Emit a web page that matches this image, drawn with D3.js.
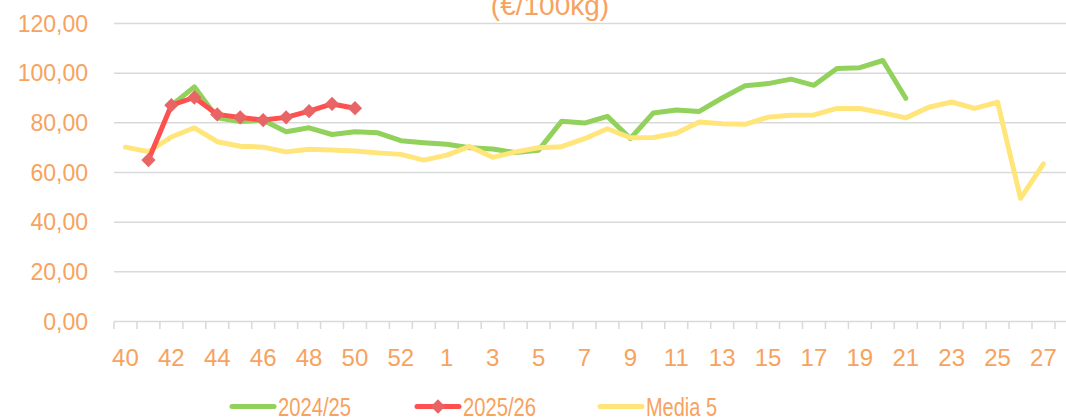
<!DOCTYPE html>
<html>
<head>
<meta charset="utf-8">
<script src="https://cdn.jsdelivr.net/npm/d3@7"></script>
<style>
  body { margin: 0; background: #fff; }
  text { font-family: "Liberation Sans", Arial, sans-serif; fill: #F7A25E; }
</style>
</head>
<body>
<div id="chart"></div>
<script>
// Weeks of the campaign (40..53, then 1..28)
const weeks = ["40","41","42","43","44","45","46","47","48","49","50","51","52","53",
    "1","2","3","4","5","6","7","8","9","10","11","12","13","14","15","16","17","18","19","20",
    "21","22","23","24","25","26","27","28"];

// 2024/25 season
const season2425 = [null, null, 87, 94.5, 82, 80.5, 81, 76.4, 78, 75.3, 76.4, 76, 72.8, 72,
    71.4, 70, 69.5, 68, 69, 80.6, 79.9, 82.6, 73.7, 84, 85.2, 84.6, 90, 94.9, 95.8, 97.6,
    95.1, 101.9, 102.2, 105.1, 89.9, null, null, null, null, null, null, null];

// 2025/26 season
const season2526 = [null, 65, 87.1, 90.2, 83.4, 82.2, 81.1, 82.2, 84.7, 87.6, 85.9];

// Media 5 anni
const media5 = [70.2, 68.4, 74.3, 78, 72.4, 70.6, 70.2, 68.3, 69.4, 69.1, 68.7, 67.9, 67.3,
    65, 67, 70.5, 66.1, 68.3, 70, 70.4, 73.6, 77.6, 74, 74.1, 75.8, 80.3, 79.6, 79.4, 82.3,
    83.1, 83.2, 85.8, 85.8, 84, 82, 86.3, 88.4, 85.8, 88.3, 49.6, 63.5, null];

const yTicks = [0, 20, 40, 60, 80, 100, 120];

const width = 1066;
const height = 418;
const plotLeft = 114, plotTop = 23.5, plotBottom = 321.5;
const step = 22.95;

const svg = d3.select("#chart")
    .append("svg")
        .attr("width", width)
        .attr("height", height);

const x = d3.scaleBand()
    .domain(weeks)
    .range([plotLeft, plotLeft + step * weeks.length])
    .padding(0);

const y = d3.scaleLinear()
    .domain([0, 120])
    .range([plotBottom, plotTop]);

const cx = d => x(d) + x.bandwidth() / 2;
const fmt = v => d3.format(".2f")(v).replace(".", ",");

// Title (cut at the top in the original)
svg.append("text")
    .attr("x", 550)
    .attr("y", 15)
    .attr("text-anchor", "middle")
    .style("font-size", "28px")
    .text("(€/100kg)");

// Gridlines + y labels
svg.append("g")
    .selectAll("line")
    .data(yTicks)
    .join("line")
        .attr("x1", plotLeft)
        .attr("x2", x.range()[1])
        .attr("y1", d => y(d))
        .attr("y2", d => y(d))
        .attr("stroke", "#D9D9D9")
        .attr("stroke-width", 1.5);

svg.append("g")
    .selectAll("text")
    .data(yTicks)
    .join("text")
        .attr("x", 88)
        .attr("y", d => y(d))
        .attr("dy", "0.36em")
        .attr("text-anchor", "end")
        .style("font-size", "23px")
        .text(fmt);

// X axis tick marks between categories
const bounds = weeks.map(w => x(w)).concat([x.range()[1]]);
svg.append("g")
    .selectAll("line")
    .data(bounds)
    .join("line")
        .attr("x1", d => d)
        .attr("x2", d => d)
        .attr("y1", plotBottom)
        .attr("y2", plotBottom + 7.5)
        .attr("stroke", "#D9D9D9")
        .attr("stroke-width", 1.5);

svg.append("g")
    .selectAll("text")
    .data(weeks.filter((w, i) => i % 2 === 0))
    .join("text")
        .attr("x", d => cx(d))
        .attr("y", 366)
        .attr("text-anchor", "middle")
        .style("font-size", "24px")
        .text(d => d);

// Lines
const line = d3.line()
    .defined(d => d.v != null)
    .x(d => cx(d.w))
    .y(d => y(d.v));

const toPts = arr => arr.map((v, i) => ({w: weeks[i], v: v}));

// draw order: green, then yellow, red on top
const series = [
    {name: "2024/25", values: season2425, color: "#92D15B"},
    {name: "Media 5", values: media5, color: "#FFE57A"},
    {name: "2025/26", values: season2526, color: "#FF5050"}
];

svg.append("g")
    .selectAll("path")
    .data(series)
    .join("path")
        .attr("d", d => line(toPts(d.values)))
        .attr("fill", "none")
        .attr("stroke", d => d.color)
        .attr("stroke-width", 5)
        .attr("stroke-linejoin", "round")
        .attr("stroke-linecap", "round");

// Diamond markers for 2025/26
const diamond = d3.symbol().type(d3.symbolDiamond2).size(130);
svg.append("g")
    .selectAll("path")
    .data(toPts(season2526).filter(d => d.v != null))
    .join("path")
        .attr("d", diamond)
        .attr("transform", d => `translate(${cx(d.w)},${y(d.v)})`)
        .attr("fill", "#E96565");

// Legend
const legend = [
    {name: "2024/25", color: "#92D15B", x: 232, marker: false, w: 73},
    {name: "2025/26", color: "#FF5050", x: 417, marker: true, w: 73},
    {name: "Media 5", color: "#FFE57A", x: 600, marker: false, w: 71}
];
const lg = svg.append("g")
    .selectAll("g")
    .data(legend)
    .join("g")
        .attr("transform", d => `translate(${d.x},406.5)`);

lg.append("line")
    .attr("x1", 0)
    .attr("x2", 42)
    .attr("stroke", d => d.color)
    .attr("stroke-width", 5)
    .attr("stroke-linecap", "round");

lg.filter(d => d.marker)
    .append("path")
        .attr("d", diamond)
        .attr("transform", "translate(21,0)")
        .attr("fill", "#E96565");

lg.append("text")
    .attr("x", 46)
    .attr("y", 9)
    .attr("textLength", d => d.w)
    .attr("lengthAdjust", "spacingAndGlyphs")
    .style("font-size", "25px")
    .text(d => d.name);
</script>
</body>
</html>
